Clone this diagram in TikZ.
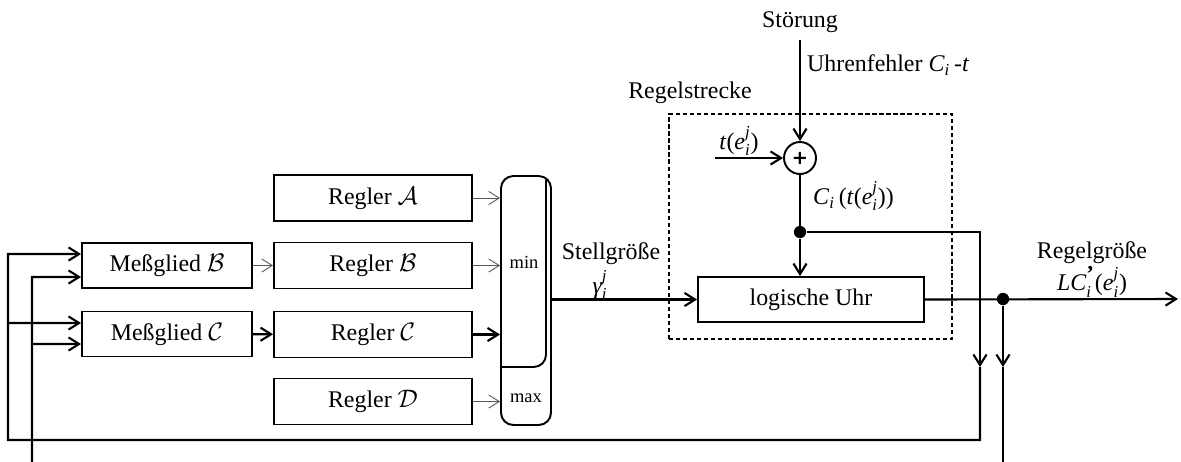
\documentclass[tikz,border=0pt]{standalone}
\usepackage{fontspec}
\usepackage{amsmath}
\setmainfont{Liberation Serif}
\newfontfamily\plusfont{DejaVu Sans}
\usetikzlibrary{arrows.meta}
\begin{document}
\begin{tikzpicture}[x=0.02cm,y=-0.02cm,
  font=\fontsize{13.6}{16}\selectfont,
  box/.style={draw,line width=1.1pt,inner sep=0pt,minimum height=0.9cm},
  mgbox/.style={box,minimum width=3.4cm},
  rgbox/.style={box,minimum width=3.96cm,minimum height=0.92cm},
  thickln/.style={line width=1.2pt},
  thinln/.style={line width=0.5pt,draw=black!65},
  arr/.style={-{Straight Barb[length=6pt,width=7.5pt]}},
  dot/.style={circle,fill,inner sep=0pt,minimum size=7pt},
  lbl/.style={inner sep=1pt},
  small/.style={inner sep=1pt,font=\fontsize{10.5}{12}\selectfont}
]
\useasboundingbox (0,0) rectangle (1181,461);

% boxes
\node[mgbox] (mb) at (167,265.5) {Meßglied $\mathcal{B}$};
\node[mgbox] (mc) at (167,334) {Meßglied $\mathcal{C}$};
\node[rgbox] (ra) at (373,198) {Regler $\mathcal{A}$};
\node[rgbox] (rb) at (373,265.5) {Regler $\mathcal{B}$};
\node[rgbox] (rc) at (373,334.5) {Regler $\mathcal{C}$};
\node[rgbox] (rd) at (373,401.5) {Regler $\mathcal{D}$};
\node[draw,line width=1.1pt,rounded corners=7pt,minimum width=1cm,minimum height=4.98cm,inner sep=0pt] (mm) at (526,300.5) {};
\draw[line width=1.1pt,rounded corners=7pt] (501,367) -- (546,367) -- (546,180);
\node[small] (min) at (524,262) {min};
\node[small] (max) at (526,398) {max};

\node[box,minimum width=4.52cm] (lu) at (811,299.5) {logische Uhr};
\node[draw,line width=1.1pt,dash pattern=on 2.4pt off 1.6pt,minimum width=5.66cm,minimum height=4.5cm,inner sep=0pt] (rs) at (810.5,226.5) {};
\node[lbl] (rslbl) at (690,93) {Regelstrecke};

\node[draw,circle,line width=1.1pt,minimum size=0.64cm,inner sep=0pt] (sum) at (800,158) {\plusfont\bfseries\fontsize{11}{11}\selectfont +};
\node[lbl] (stoer) at (800,22) {Störung};
\coordinate (st) at (800,40);
\node[lbl,anchor=west] (uf) at (805,65) {Uhrenfehler \textit{C}$_{\textit{i}}$\,-\textit{t}};
\coordinate (tin) at (715,158);
\node[lbl] (tlbl) at (739,141) {\textit{t}(\textit{e}$^{\textit{j}}_{\textit{i}}$)};
\node[lbl,anchor=west] (cilbl) at (811,196) {\textit{C}$_{\textit{i}}$\,(\textit{t}(\textit{e}$^{\textit{j}}_{\textit{i}}$))};

\node[dot] (j1) at (800,232) {};
\node[dot] (j2) at (1003,299) {};

\node[lbl] (sg) at (611,254) {Stellgröße};
\node[lbl] (gam) at (600,285) {$\textit{γ}^{\textit{j}}_{\textit{i}}$};
\node[lbl] (rg) at (1092,253) {Regelgröße};
\node[lbl] (lc) at (1092,282) {\textit{LC}$^{\text{\fontsize{13}{13}\selectfont\textbf{’}}}_{\textit{i}}$(\textit{e}$^{\textit{j}}_{\textit{i}}$)};

% coordinates
\coordinate (fa1) at (980,232);
\coordinate (fa2) at (980,367);
\coordinate (fa3) at (980,440);
\coordinate (fa4) at (8,440);
\coordinate (fa5) at (8,254);
\coordinate (fa6) at (8,323);
\coordinate (ib) at (32,462);
\coordinate (i1) at (32,277);
\coordinate (i2) at (32,344);
\coordinate (o1) at (1003,367);
\coordinate (ob) at (1003,462);
\coordinate (out) at (1178,299);

% connectors
\draw[thinln,arr] (mb) -- (rb);
\draw[thickln,arr] (mc) -- (rc);
\draw[thinln,arr] (ra) -- (ra -| mm.west);
\draw[thinln,arr] (rb) -- (rb -| mm.west);
\draw[thickln,arr] (rc) -- (rc -| mm.west);
\draw[thinln,arr] (rd) -- (rd -| mm.west);
\draw[thickln,arr] (lu.west -| mm.east) -- (lu.west);

\draw[thickln,arr] (st) -- (sum);
\draw[thickln,arr] (tin) -- (sum);
\draw[thickln] (sum) -- (j1);
\draw[thickln,arr] (j1) -- (j1 |- lu.north);

\draw[thickln,arr] (j1) -- (fa1) -- (fa2);
\draw[thickln,arr] (fa2) -- (fa3) -- (fa4) -- (fa5) -- ([yshift=0.23cm]mb.west);
\draw[thickln,arr] (fa6) -- ([yshift=0.22cm]mc.west);
\draw[thickln,arr] (ib) -- (i1) -- ([yshift=-0.23cm]mb.west);
\draw[thickln,arr] (i2) -- ([yshift=-0.2cm]mc.west);

\draw[thickln,arr] (lu.east) -- (out);
\draw[thickln,arr] (j2) -- (o1);
\draw[thickln] (o1) -- (ob);
\end{tikzpicture}
\end{document}
